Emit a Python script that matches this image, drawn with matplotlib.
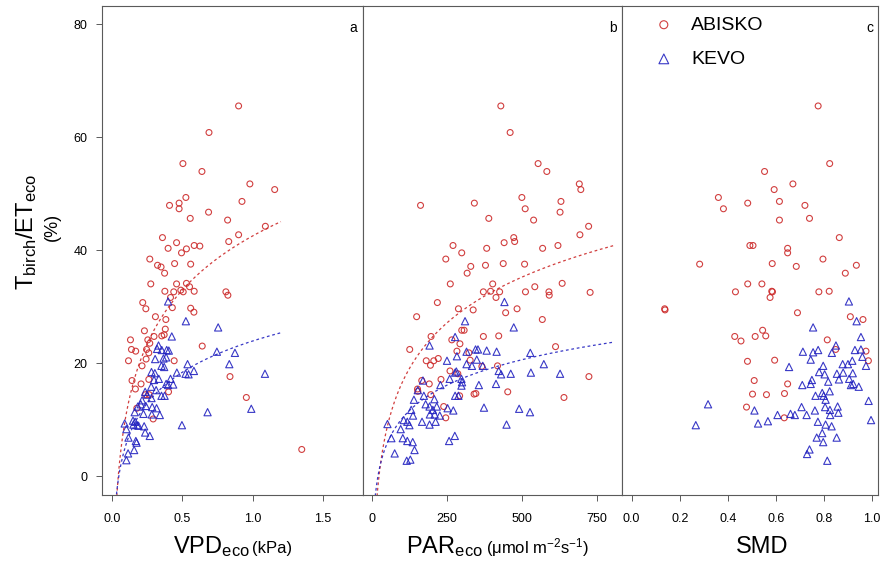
import numpy as np
import matplotlib.pyplot as plt

plt.rcParams['font.family'] = ['Liberation Sans', 'DejaVu Sans']
plt.rcParams['mathtext.fontset'] = 'custom'
plt.rcParams['mathtext.rm'] = 'Liberation Sans'
plt.rcParams['mathtext.it'] = 'Liberation Sans:italic'
plt.rcParams['mathtext.default'] = 'regular'

# --- données ---
# panneau a : VPD (kPa)
vpd_abisko_x = [0.90, 0.69, 0.505, 0.64, 0.98, 1.156, 0.526, 0.41, 0.478, 0.478,
                0.924, 0.687, 0.557, 0.822, 1.09, 0.36, 0.90, 0.83, 0.46, 0.585,
                0.625, 0.40, 0.53, 0.495, 0.27, 0.446, 0.325, 0.35, 0.56, 0.375,
                0.277, 0.46, 0.53, 0.552, 0.377, 0.44, 0.49, 0.507, 0.585, 0.81,
                0.824, 0.417, 0.22, 0.242, 0.56, 0.583, 0.43, 0.31, 0.384, 0.232,
                0.38, 0.256, 0.27, 0.30, 0.355, 0.372, 0.133, 0.14, 0.17, 0.247,
                0.263, 0.642, 0.119, 0.244, 0.215, 0.443, 0.144, 0.168, 0.208, 0.263,
                0.24, 0.265, 0.403, 0.839, 0.955, 1.348, 0.294, 0.178]
vpd_abisko_y = [65.5, 60.8, 55.3, 53.9, 51.7, 50.7, 49.3, 47.9, 48.3, 47.3,
                48.6, 46.7, 45.6, 45.3, 44.2, 42.2, 42.7, 41.5, 41.3, 40.8,
                40.7, 40.3, 40.2, 39.5, 38.4, 37.6, 37.3, 37.0, 37.5, 35.9,
                34.0, 34.0, 34.1, 33.5, 32.7, 32.6, 32.9, 32.6, 32.7, 32.6,
                32.0, 31.6, 30.7, 29.6, 29.7, 29.0, 29.8, 28.2, 27.7, 25.7,
                26.0, 24.1, 23.5, 24.7, 24.8, 25.0, 24.1, 22.4, 22.1, 22.4,
                21.8, 23.0, 20.4, 20.7, 19.5, 20.4, 16.9, 15.4, 16.3, 17.1,
                14.4, 14.4, 14.9, 17.6, 13.9, 4.7, 10.1, 12.0]
vpd_kevo_x = [0.40, 0.526, 0.755, 0.426, 0.332, 0.322, 0.355, 0.39, 0.405, 0.308,
              0.367, 0.746, 0.874, 0.353, 0.538, 0.834, 0.282, 0.306, 0.462, 0.524,
              0.583, 1.087, 0.334, 0.417, 0.386, 0.436, 0.40, 0.315, 0.237, 0.251,
              0.353, 0.375, 0.282, 0.215, 0.185, 0.206, 0.242, 0.287, 0.318, 0.341,
              0.284, 0.225, 0.163, 0.151, 0.166, 0.68, 0.092, 0.104, 0.154, 0.18,
              0.23, 0.19, 0.498, 0.99, 0.237, 0.27, 0.119, 0.171, 0.176, 0.159,
              0.116, 0.104, 0.386, 0.372, 0.545, 0.30, 0.28]
vpd_kevo_y = [30.9, 27.4, 26.3, 24.7, 23.1, 22.5, 22.3, 22.3, 22.2, 20.7,
              20.8, 22.0, 21.8, 19.5, 19.8, 19.8, 18.4, 18.2, 18.3, 18.1,
              18.6, 18.1, 17.2, 17.2, 16.3, 16.2, 16.1, 15.2, 14.9, 14.4,
              14.2, 14.2, 13.8, 13.4, 12.3, 12.7, 12.4, 12.2, 12.0, 10.8,
              10.9, 11.0, 11.3, 9.8, 9.6, 11.3, 9.3, 8.3, 9.1, 9.0,
              8.8, 8.9, 9.0, 11.9, 7.7, 7.1, 6.8, 6.2, 5.9, 4.6,
              4.0, 2.8, 21.0, 19.3, 18.0, 17.0, 15.8]

# panneau b : PAR (umol m-2 s-1)
par_abisko_x = [430, 461, 554, 583, 691, 696, 163, 342, 500, 511,
                630, 627, 390, 539, 722, 693, 473, 476, 441, 271,
                620, 383, 569, 300, 247, 330, 318, 379, 438, 509,
                262, 403, 372, 396, 426, 414, 512, 543, 590, 591,
                634, 727, 219, 289, 338, 446, 484, 150, 568, 198,
                300, 308, 372, 423, 267, 294, 127, 612, 182, 196,
                207, 222, 284, 324, 328, 367, 419, 261, 287, 723,
                167, 192, 231, 153, 154, 197, 293, 341, 347, 453,
                640, 240, 247]
par_abisko_y = [65.5, 60.8, 55.3, 53.9, 51.7, 50.7, 47.9, 48.3, 49.3, 47.3,
                48.6, 46.7, 45.6, 45.3, 44.2, 42.7, 42.2, 41.5, 41.3, 40.8,
                40.8, 40.3, 40.3, 39.5, 38.4, 37.1, 35.9, 37.3, 37.6, 37.5,
                34.0, 34.0, 32.6, 32.7, 32.6, 31.6, 32.6, 33.5, 32.6, 32.0,
                34.1, 32.5, 30.7, 29.6, 29.4, 28.9, 29.6, 28.2, 27.7, 24.7,
                25.8, 25.8, 24.7, 24.8, 24.1, 23.4, 22.4, 22.9, 20.4, 19.6,
                20.4, 20.8, 22.1, 21.8, 20.5, 19.4, 19.5, 18.6, 18.1, 17.6,
                16.9, 16.3, 17.1, 15.4, 15.0, 14.4, 14.2, 14.5, 14.6, 14.9,
                13.9, 12.3, 10.3]
par_kevo_x = [442, 311, 473, 278, 193, 316, 346, 354, 383, 416,
              528, 251, 284, 316, 334, 350, 370, 573, 278, 282,
              299, 301, 423, 431, 463, 530, 627, 171, 229, 260,
              299, 357, 414, 154, 174, 278, 289, 141, 209, 180,
              193, 204, 217, 194, 210, 227, 272, 253, 374, 491,
              527, 132, 138, 107, 119, 126, 168, 193, 213, 449,
              53, 66, 97, 104, 119, 137, 143, 77, 117, 129,
              258, 277]
par_kevo_y = [30.8, 27.4, 26.3, 24.6, 23.1, 22.0, 22.4, 22.4, 22.2, 22.0,
              21.8, 20.4, 21.2, 19.8, 19.5, 20.6, 19.5, 19.8, 18.3, 18.5,
              17.2, 16.6, 18.6, 18.0, 18.1, 18.3, 18.1, 16.9, 16.1, 17.2,
              16.0, 16.1, 16.3, 15.2, 14.2, 14.2, 14.2, 13.5, 13.6, 12.7,
              12.3, 11.7, 12.3, 10.9, 10.9, 10.7, 11.6, 12.0, 12.1, 11.9,
              11.3, 11.7, 10.7, 9.9, 9.6, 9.0, 9.6, 9.1, 9.6, 9.1,
              9.2, 6.7, 8.3, 6.7, 6.2, 6.0, 4.6, 4.0, 2.7, 2.9,
              6.2, 7.1]

# panneau c : SMD
smd_abisko_x = [0.776, 0.824, 0.553, 0.671, 0.593, 0.361, 0.382, 0.483, 0.615, 0.721,
                0.615, 0.74, 0.864, 0.492, 0.505, 0.649, 0.649, 0.796, 0.585, 0.685,
                0.935, 0.283, 0.889, 0.483, 0.542, 0.432, 0.583, 0.586, 0.576, 0.779,
                0.822, 0.1375, 0.139, 0.69, 0.91, 0.9625, 0.429, 0.455, 0.514, 0.545,
                0.558, 0.814, 0.849, 0.975, 0.985, 0.482, 0.595, 0.51, 0.649, 0.503,
                0.561, 0.636, 0.478, 0.635]
smd_abisko_y = [65.5, 55.3, 53.9, 51.7, 50.7, 49.3, 47.3, 48.3, 48.6, 47.9,
                45.3, 45.6, 42.2, 40.8, 40.8, 40.3, 39.5, 38.4, 37.6, 37.1,
                37.3, 37.5, 35.9, 34.0, 34.0, 32.6, 32.7, 32.6, 31.6, 32.6,
                32.7, 29.6, 29.4, 28.9, 28.2, 27.7, 24.7, 23.9, 24.7, 25.8,
                24.8, 24.1, 22.4, 22.1, 20.4, 20.3, 20.5, 16.9, 16.3, 14.5,
                14.4, 14.6, 12.2, 10.3]
smd_kevo_x = [0.904, 0.936, 0.755, 0.954, 0.85, 0.7125, 0.755, 0.776, 0.833, 0.929,
              0.954, 0.745, 0.96, 0.655, 0.797, 0.878, 0.9, 0.918, 0.975, 0.78,
              0.803, 0.854, 0.88, 0.92, 0.71, 0.745, 0.75, 0.818, 0.8625, 0.905,
              0.9125, 0.945, 0.922, 0.765, 0.793, 0.799, 0.824, 0.807, 0.986, 0.318,
              0.511, 0.707, 0.728, 0.7625, 0.805, 0.825, 0.857, 0.86, 0.826, 0.607,
              0.661, 0.679, 0.267, 0.526, 0.567, 0.775, 0.807, 0.832, 0.996, 0.793,
              0.77, 0.853, 0.797, 0.74, 0.73, 0.814]
smd_kevo_y = [30.9, 27.4, 26.3, 24.6, 23.1, 22.0, 21.9, 22.3, 21.8, 22.3,
              22.4, 20.6, 21.1, 19.3, 19.5, 19.8, 19.8, 20.4, 19.5, 18.4,
              18.0, 18.1, 18.3, 18.2, 16.1, 16.3, 17.0, 16.7, 17.1, 17.2,
              16.1, 15.8, 16.3, 14.2, 14.7, 14.2, 15.0, 13.5, 13.3, 12.7,
              11.6, 12.2, 10.8, 11.6, 12.2, 11.7, 12.3, 11.2, 10.8, 10.8,
              11.0, 10.8, 9.0, 9.3, 9.7, 9.6, 9.1, 8.8, 9.9, 7.6,
              6.8, 6.8, 6.0, 4.7, 3.9, 2.7]

# ajustements logarithmiques y = a + b*ln(x) (coefficients)
vpd_fit_abisko = (42.5, 13.85)
vpd_fit_kevo = (23.9, 8.0)
par_fit_abisko = (-37.7, 11.73)
par_fit_kevo = (-20.0, 6.53)

vpd_ticks = [0.0, 0.5, 1.0, 1.5]
par_ticks = [0, 250, 500, 750]
smd_ticks = [0.0, 0.2, 0.4, 0.6, 0.8, 1.0]
y_ticks = [0, 20, 40, 60, 80]

red = '#cc2a2a'
blue = '#2323c0'
frame = '#5a5a5a'

#Affiche le résultat
fig = plt.figure(figsize=(8.84, 5.61), dpi=100)
W, H = 884., 561.
bot = 66 / H
hgt = 489 / H
ax1 = fig.add_axes([102 / W, bot, 260.5 / W, hgt])
ax2 = fig.add_axes([362.5 / W, bot, 259.5 / W, hgt])
ax3 = fig.add_axes([622 / W, bot, 256 / W, hgt])

def style(ax, xlim, ticks, fmt, letter):
    ax.set_xlim(xlim)
    ax.set_ylim(-3.36, 83.19)
    ax.set_xticks(ticks)
    ax.set_xticklabels([fmt.format(t) for t in ticks])
    for s in ax.spines.values():
        s.set_color(frame)
        s.set_linewidth(0.8)
    ax.tick_params(direction='out', length=4.3, width=0.7, color=frame,
                   labelsize=9, pad=6)
    ax.tick_params(axis='x', pad=9)
    ax.text(0.981, 0.955, letter, transform=ax.transAxes, ha='right', va='center', fontsize=10)

def points(ax, x1, y1, x2, y2):
    ax.scatter(x1, y1, s=18, marker='o', facecolors='none', edgecolors=red,
               linewidths=0.8, alpha=0.9, label='ABISKO')
    ax.scatter(x2, y2, s=27, marker='^', facecolors='none', edgecolors=blue,
               linewidths=0.8, alpha=0.9, label='KEVO')

def fit(ax, coef, lo, hi, col):
    xx = np.linspace(lo, hi, 400)
    ax.plot(xx, coef[0] + coef[1] * np.log(xx), color=col, lw=0.9,
            dashes=(2.2, 2.2), alpha=0.9)

points(ax1, vpd_abisko_x, vpd_abisko_y, vpd_kevo_x, vpd_kevo_y)
fit(ax1, vpd_fit_abisko, 0.01, 1.2, red)
fit(ax1, vpd_fit_kevo, 0.01, 1.2, blue)
style(ax1, (-0.069, 1.779), vpd_ticks, '{:.1f}', 'a')
ax1.set_yticks(y_ticks)

points(ax2, par_abisko_x, par_abisko_y, par_kevo_x, par_kevo_y)
fit(ax2, par_fit_abisko, 1, 805, red)
fit(ax2, par_fit_kevo, 1, 805, blue)
style(ax2, (-30, 833), par_ticks, '{:d}', 'b')
ax2.set_yticks([])

points(ax3, smd_abisko_x, smd_abisko_y, smd_kevo_x, smd_kevo_y)
style(ax3, (-0.04, 1.025), smd_ticks, '{:.1f}', 'c')
ax3.set_yticks([])
ax3.legend(loc='upper left', bbox_to_anchor=(0.095, 0.995), frameon=False, fontsize=14,
           markerscale=1.35, handlelength=1.0, handletextpad=0.9, labelspacing=0.85,
           borderaxespad=0)

# titres des axes
fig.text(250 / W, 1 - 553 / H, r'VPD$_{eco}$', ha='right', va='baseline', fontsize=17)
fig.text(252 / W, 1 - 553 / H, '(kPa)', ha='left', va='baseline', fontsize=12)
fig.text(483 / W, 1 - 553 / H, r'PAR$_{eco}$', ha='right', va='baseline', fontsize=17)
fig.text(486 / W, 1 - 553 / H, r'($\mu$mol m$^{-2}$s$^{-1}$)', ha='left', va='baseline', fontsize=12)
fig.text(762 / W, 1 - 553 / H, 'SMD', ha='center', va='baseline', fontsize=17)

fig.text(33 / W, 1 - 232 / H, r'T$_{birch}$/ET$_{eco}$', rotation=90, rotation_mode='anchor',
         ha='center', va='baseline', fontsize=17)
fig.text(52 / W, 1 - 227 / H, '(%)', rotation=90, ha='center', va='center', fontsize=13)

fig.savefig('out.png', dpi=100)
